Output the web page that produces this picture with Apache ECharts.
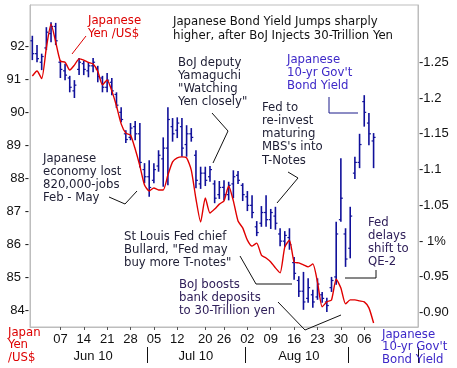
<!DOCTYPE html>
<html><head><meta charset="utf-8">
<script src="https://cdn.jsdelivr.net/npm/echarts@6/dist/echarts.min.js"></script>
<style>html,body{margin:0;padding:0;background:#fff}#c{width:457px;height:368px}</style>
</head><body><div id="c"></div>
<script>
// ---- data ----
var dates = ['05-28','05-31','06-01','06-02','06-03','06-04','06-07','06-08','06-09','06-10','06-11','06-14','06-15','06-16','06-17','06-18','06-21','06-22','06-23','06-24','06-25','06-28','06-29','06-30','07-01','07-02','07-05','07-06','07-07','07-08','07-09','07-12','07-13','07-14','07-15','07-16','07-19','07-20','07-21','07-22','07-23','07-26','07-27','07-28','07-29','07-30','08-02','08-03','08-04','08-05','08-06','08-09','08-10','08-11','08-12','08-13','08-16','08-17','08-18','08-19','08-20','08-23','08-24','08-25','08-26','08-27','08-30','08-31','09-01','09-02','09-03','09-06','09-07','09-08'];
var padDates = ['09-09','09-10','09-13','09-14','09-15','09-16','09-17','09-20','09-21'];
var yenUsd = [91.10,91.25,91.02,91.95,92.67,92.13,91.55,91.52,91.28,91.43,
 91.62,91.58,91.51,91.46,91.24,90.83,90.98,90.65,90.19,89.65,
 89.37,89.31,88.89,88.38,87.80,87.62,87.71,87.65,87.65,88.10,
 88.50,88.62,88.65,88.62,88.25,87.38,86.68,87.41,86.95,87.07,
 87.22,87.32,87.77,87.32,86.71,86.50,86.13,85.95,86.04,85.68,
 85.59,85.47,85.29,85.14,85.92,86.13,85.47,85.44,85.38,85.32,
 85.41,84.86,84.11,84.26,84.32,84.95,84.68,84.20,84.32,84.32,
 84.29,84.26,84.08,83.62];
var yldOpen = [1.280,1.262,1.250,1.270,1.290,1.300,1.250,1.238,1.228,1.210,
 1.240,1.248,1.238,1.245,1.240,1.228,1.215,1.222,1.205,1.180,
 1.150,1.145,1.160,1.150,1.100,1.090,1.085,1.105,1.115,1.130,
 1.160,1.155,1.160,1.135,1.150,1.120,1.080,1.095,1.090,1.080,
 1.065,1.075,1.065,1.080,1.092,1.078,1.062,1.050,1.020,1.025,
 1.040,1.030,1.035,1.010,1.000,1.005,0.970,0.945,0.930,0.920,
 0.925,0.922,0.925,0.915,0.935,0.950,1.030,1.010,0.990,1.095,
 1.110,1.195,1.165,1.140];
var yldHigh = [1.287,1.274,1.262,1.299,1.306,1.305,1.253,1.248,1.231,1.225,
 1.256,1.252,1.250,1.256,1.245,1.231,1.235,1.228,1.208,1.187,
 1.155,1.165,1.168,1.165,1.109,1.113,1.109,1.127,1.145,1.187,
 1.172,1.173,1.172,1.162,1.158,1.127,1.104,1.104,1.105,1.085,
 1.084,1.085,1.083,1.099,1.098,1.081,1.070,1.064,1.028,1.049,
 1.064,1.045,1.048,1.018,1.014,1.018,0.978,0.951,0.957,0.948,
 0.932,0.948,0.929,0.921,0.950,1.027,1.116,1.018,1.048,1.118,
 1.150,1.204,1.179,1.151];
var yldLow = [1.253,1.250,1.239,1.267,1.278,1.274,1.228,1.225,1.208,1.200,
 1.232,1.232,1.229,1.236,1.222,1.208,1.208,1.204,1.186,1.166,
 1.137,1.141,1.141,1.103,1.081,1.062,1.081,1.097,1.076,1.078,
 1.139,1.144,1.118,1.118,1.139,1.074,1.073,1.077,1.083,1.053,
 1.059,1.057,1.057,1.060,1.080,1.056,1.042,1.032,1.007,1.020,
 1.020,1.017,1.016,0.993,0.992,0.988,0.946,0.922,0.904,0.914,
 0.907,0.918,0.914,0.901,0.929,0.939,1.027,0.964,0.976,1.087,
 1.102,1.160,1.134,1.102];
var yldClose = [1.262,1.255,1.258,1.292,1.300,1.280,1.240,1.232,1.215,1.218,
 1.250,1.240,1.245,1.250,1.230,1.215,1.225,1.210,1.190,1.170,
 1.142,1.158,1.150,1.110,1.090,1.075,1.100,1.120,1.130,1.170,
 1.150,1.165,1.130,1.150,1.145,1.085,1.095,1.085,1.100,1.060,
 1.075,1.065,1.078,1.090,1.085,1.065,1.050,1.040,1.012,1.040,
 1.030,1.040,1.025,1.000,1.008,0.995,0.955,0.930,0.915,0.935,
 0.915,0.940,0.920,0.910,0.945,1.010,1.060,0.975,1.035,1.110,
 1.135,1.180,1.150,1.145];
var weekTickDates = ['06-07','06-14','06-21','06-28','07-05','07-12','07-20','07-26','08-02','08-09','08-16','08-23','08-30','09-06'];
var weekTickText  = ['07','14','21','28','05','12','20','26','02','09','16','23','30','06'];
var monthLabelDates = ['06-16','07-16','08-17'];
var monthLabelText  = ['Jun 10','Jul 10','Aug 10'];
var monthSepDates = ['07-02','08-02','09-01'];
var yenTicks = [84,85,86,87,88,89,90,91,92];
var yenTickText = ['84-','85 -','86 -','87 -','88-','89 -','90-','91 -','92-'];
var yieldTicks = [0.90,0.95,1.00,1.05,1.10,1.15,1.20,1.25];
var yieldTickText = ['-0.90','-0.95','- 1%','-1.05','-1.1','-1.15','-1.2','-1.25'];

// ---- chart ----
var FONT = '"DejaVu Sans Condensed", "Liberation Sans", Arial, sans-serif';
var AXFONT = '"Liberation Sans", Arial, sans-serif';
var allDates = dates.concat(padDates);
var ohlc = dates.map(function(d, i){ return [i, yldOpen[i], yldHigh[i], yldLow[i], yldClose[i]]; });
var GRAY = '#bdbdbd';

function txt(lines, x, y, color, lh){
  return {type:'text', x:x, y:y, silent:true, z:10,
    style:{text:lines.join('\n'), fill:color, fontSize:13, fontFamily:FONT, lineHeight:lh||13, align:'left', verticalAlign:'top'}};
}
function poly(pts, color){
  return {type:'polyline', silent:true, z:10, shape:{points:pts}, style:{stroke:color, lineWidth:1, fill:null}};
}
var DARK = '#1d1d33', PURP = '#30205a', BLUE = '#3d28c8', RED = '#dd0000';

var chart = echarts.init(document.getElementById('c'), null, {renderer:'canvas'});
chart.setOption({
  animation:false,
  backgroundColor:'#fff',
  grid:{left:30, top:5, width:388, height:322, show:true, borderColor:GRAY, borderWidth:1, containLabel:false},
  xAxis:[{
    type:'category', data:allDates, boundaryGap:true,
    axisLine:{lineStyle:{color:GRAY}},
    axisTick:{show:true, alignWithLabel:true, length:3, lineStyle:{color:'#555'},
      interval:function(i, v){ return weekTickDates.indexOf(v) >= 0; }},
    axisLabel:{interval:function(i, v){ return weekTickDates.indexOf(v) >= 0; },
      formatter:function(v){ var k = weekTickDates.indexOf(v); return k >= 0 ? weekTickText[k] : ''; },
      margin:6, color:'#111', fontSize:13, fontFamily:AXFONT},
    splitLine:{show:false}
  },{
    type:'category', data:allDates, boundaryGap:true, position:'bottom', offset:20,
    axisLine:{show:false},
    axisTick:{show:true, alignWithLabel:false, length:16, lineStyle:{color:'#111'},
      interval:function(i, v){ return monthSepDates.indexOf(v) >= 0; }},
    axisLabel:{interval:function(i, v){ return monthLabelDates.indexOf(v) >= 0; },
      formatter:function(v){ var k = monthLabelDates.indexOf(v); return k >= 0 ? monthLabelText[k] : ''; },
      margin:3, color:'#111', fontSize:13, fontFamily:AXFONT},
    splitLine:{show:false}
  }],
  yAxis:[{
    type:'value', position:'left', min:83.5, max:93.25, interval:0.25,
    axisLine:{show:true, lineStyle:{color:GRAY}}, axisTick:{show:false}, splitLine:{show:false},
    axisLabel:{margin:1, color:'#111', fontSize:13, fontFamily:AXFONT,
      formatter:function(v){ var k = yenTicks.indexOf(Math.round(v*100)/100); return k >= 0 ? yenTickText[k] : ''; }}
  },{
    type:'value', position:'right', min:0.88, max:1.33, interval:0.01,
    axisLine:{show:true, lineStyle:{color:GRAY}}, axisTick:{show:false}, splitLine:{show:false},
    axisLabel:{margin:1, color:'#111', fontSize:13, fontFamily:AXFONT,
      formatter:function(v){ var r = Math.round(v*100); for (var k=0;k<yieldTicks.length;k++){ if (Math.round(yieldTicks[k]*100)===r) return yieldTickText[k]; } return ''; }}
  }],
  series:[{
    type:'custom', xAxisIndex:0, yAxisIndex:1, data:ohlc, z:2,
    encode:{x:0, y:[1,2,3,4]},
    renderItem:function(params, api){
      var i = api.value(0);
      var o = api.coord([i, api.value(1)]), h = api.coord([i, api.value(2)]),
          l = api.coord([i, api.value(3)]), c = api.coord([i, api.value(4)]);
      var st = {stroke:'#10109a', lineWidth:1.6};
      return {type:'group', children:[
        {type:'line', shape:{x1:h[0], y1:h[1], x2:l[0], y2:l[1]}, style:st},
        {type:'line', shape:{x1:o[0]-2, y1:o[1], x2:o[0], y2:o[1]}, style:{stroke:'#10109a', lineWidth:1.2}},
        {type:'line', shape:{x1:c[0], y1:c[1], x2:c[0]+2, y2:c[1]}, style:{stroke:'#10109a', lineWidth:1.2}}
      ]};
    }
  },{
    type:'line', xAxisIndex:0, yAxisIndex:0, data:yenUsd, symbol:'none', smooth:0.2, z:3,
    lineStyle:{color:'#e00000', width:1.4}
  }],
  graphic:[
    txt(['Japanese Bond Yield Jumps sharply','higher, after BoJ Injects 30-Trillion Yen'], 173, 15, '#111', 14),
    txt(['Japanese','Yen /US$'], 88, 14.5, RED),
    poly([[72,54],[86,36]], RED),
    txt(['BoJ deputy','Yamaguchi','"Watching','Yen closely"'], 178, 56.5, DARK),
    poly([[212,113],[228,131],[213,163]], '#111'),
    txt(['Japanese','10-yr Gov\'t','Bond Yield'], 287, 53.5, BLUE),
    poly([[329,97],[329,113],[358,113]], '#1a1a8a'),
    txt(['Fed to','re-invest','maturing','MBS\'s into','T-Notes'], 262, 100.5, DARK, 13.25),
    poly([[288,172],[298,178],[277,203]], '#111'),
    txt(['Japanese','economy lost','820,000-jobs','Feb - May'], 43, 152.5, DARK),
    poly([[109,197],[125,204],[137,191]], '#111'),
    txt(['St Louis Fed chief','Bullard, "Fed may','buy more T-notes"'], 124, 230.5, DARK),
    poly([[240,256],[256,284],[292,284]], '#111'),
    txt(['BoJ boosts','bank deposits','to 30-Trillion yen'], 179, 278.5, PURP),
    poly([[278,302],[305,330],[341,315]], '#111'),
    txt(['Fed','delays','shift to','QE-2'], 368, 216.5, PURP),
    poly([[345,278],[376,278],[376,270]], '#111'),
    txt(['Japan','Yen','/US$'], 8, 326, RED, 12.5),
    txt(['Japanese','10-yr Gov\'t','Bond Yield'], 382, 328, BLUE, 12.5)
  ]
});
</script></body></html>
